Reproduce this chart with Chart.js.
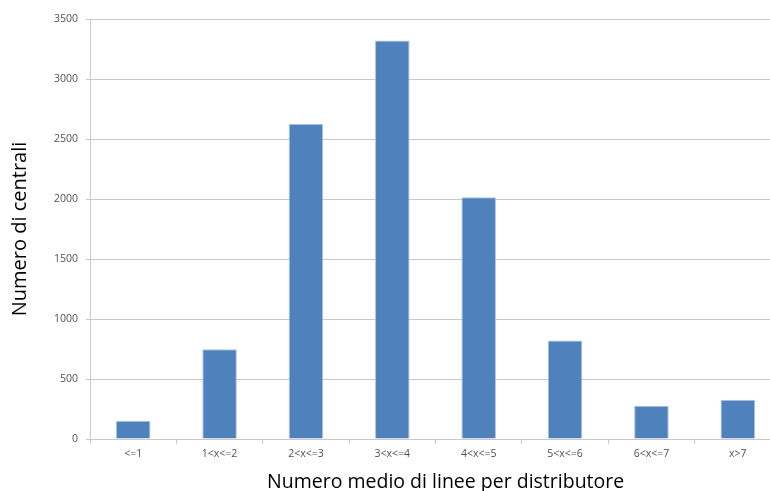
<!DOCTYPE html>
<html>
<head>
<meta charset="utf-8">
<script src="https://cdn.jsdelivr.net/npm/chart.js@4/dist/chart.umd.min.js"></script>
<style>
  html, body { margin: 0; padding: 0; background: #ffffff; overflow: hidden; }
  #wrap { position: absolute; left: 0; top: 0; width: 785px; height: 500px; }
</style>
</head>
<body>
<div id="wrap"><canvas id="c" width="785" height="500"></canvas></div>
<script>
// Distribution of exchanges by average number of lines per distributor
const categories = ['<=1', '1<x<=2', '2<x<=3', '3<x<=4', '4<x<=5', '5<x<=6', '6<x<=7', 'x>7'];
const centrali = [152, 748, 2625, 3320, 2015, 820, 278, 328];
const yTicks = [0, 500, 1000, 1500, 2000, 2500, 3000, 3500];

// leading spaces nudge the axis title a little to the right of the plot centre
const xTitle = '    Numero medio di linee per distributore';
const yTitle = 'Numero di centrali';

const gridColor = '#c9c9c9';
const tickColor = '#505050';

new Chart(document.getElementById('c'), {
  type: 'bar',
  data: {
    labels: categories,
    datasets: [{
      data: centrali,
      backgroundColor: '#4f81bd',
      borderColor: '#a9c2e2',
      borderWidth: 1,
      barPercentage: 0.4,
      categoryPercentage: 1.0
    }]
  },
  options: {
    responsive: false,
    animation: false,
    events: [],
    layout: { padding: { top: 19, right: 4, left: 0, bottom: 0 } },
    plugins: { legend: { display: false }, tooltip: { enabled: false } },
    scales: {
      x: {
        grid: { display: true, drawOnChartArea: false, drawTicks: true, tickLength: 5, color: gridColor, offset: true },
        border: { color: gridColor, width: 1 },
        ticks: { color: tickColor, font: { family: 'Open Sans', size: 10.5 }, padding: 4, maxRotation: 0, autoSkip: false },
        title: { display: true, text: xTitle, color: '#000000', font: { family: 'Open Sans', size: 19.5 }, padding: { top: 0, bottom: 6 } },
        afterFit: (s) => { s.height = 61; }
      },
      y: {
        min: 0,
        max: 3500,
        afterBuildTicks: (s) => { s.ticks = yTicks.map(v => ({ value: v })); },
        grid: { color: gridColor, tickLength: 4, drawTicks: true },
        border: { color: gridColor, width: 1 },
        ticks: { color: tickColor, font: { family: 'Open Sans', size: 10.5 }, padding: 8, callback: (v) => String(v) },
        title: { display: true, text: yTitle, color: '#000000', font: { family: 'Open Sans', size: 20 }, padding: { top: 8, bottom: 0 } },
        afterFit: (s) => { s.width = 90; }
      }
    }
  }
});
</script>
</body>
</html>
